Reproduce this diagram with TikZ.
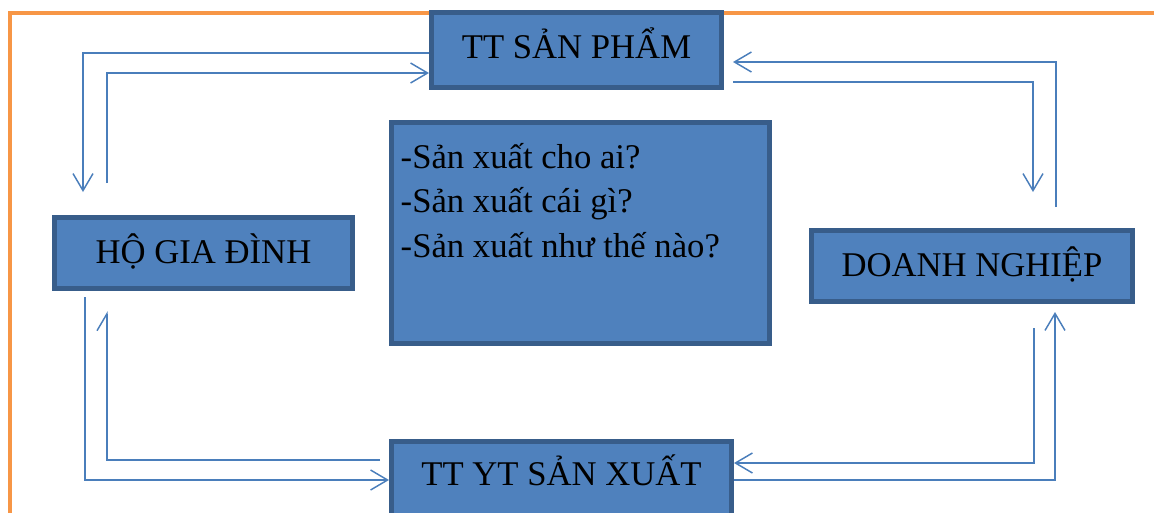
\documentclass[tikz,border=0pt]{standalone}
\usepackage{fontspec}
\setmainfont{Liberation Serif}
\usetikzlibrary{arrows.meta}
\definecolor{boxfill}{HTML}{4F81BD}
\definecolor{boxline}{HTML}{385D8A}
\definecolor{flowcol}{HTML}{4A7EBB}
\definecolor{framecol}{HTML}{F79646}
\tikzset{
  box/.style={draw=boxline, fill=boxfill, line width=3.4pt, inner sep=0pt,
    outer sep=1.7pt, font=\fontsize{26pt}{33.4pt}\selectfont, text=black},
  flow/.style={draw=flowcol, line width=1.1pt},
  tip/.style={-{Straight Barb[length=12.75pt,width=15pt]}},
  halftip/.style={-{Straight Barb[harpoon,length=12.75pt,width=15pt]}},
  frame/.style={draw=framecol, line width=3pt}
}
\begin{document}
\begin{tikzpicture}[x=0.75pt,y=-0.75pt]
\useasboundingbox (0,0) rectangle (1154,512);
\clip (0,0) rectangle (1154,512);
\draw[frame] (9.5,530) -- (9.5,13) -- (1170,13);

\node[box, minimum width=217.85pt, minimum height=56.6pt, text height=12pt, text depth=0pt]
  (ttsp) at (576.5,50) {TT SẢN PHẨM};
\node[box, minimum width=223.85pt, minimum height=53.6pt, text height=15pt, text depth=0pt]
  (hgd) at (203.5,253) {HỘ GIA ĐÌNH};
\node[box, minimum width=241.1pt, minimum height=53.6pt, text height=15pt, text depth=0pt]
  (dn) at (972,266) {DOANH NGHIỆP};
\node[box, minimum width=255.35pt, minimum height=64.1pt, text height=1.5pt, text depth=0pt]
  (ttyt) at (561.5,484) {TT YT SẢN XUẤT};
\node[box, align=left, text width=269.65pt, inner xsep=7.1pt, inner ysep=0pt,
  text height=34.3pt, text depth=131.8pt]
  (q) at (580.5,233) {\spaceskip=0pt\xspaceskip=0pt\relax
  -Sản xuất cho ai?\\-Sản xuất cái gì?\\-Sản xuất như thế nào?};

\coordinate (a1) at (83,192);
\coordinate (b0) at (107,183);
\coordinate (c0) at (1056,207);
\coordinate (d1) at (1033,192);
\coordinate (e0) at (85,297);
\coordinate (f1) at (107,311);
\coordinate (g0) at (1034,328);
\coordinate (h1) at (1055,312);

\draw[flow,tip] ([yshift=-2.25pt]ttsp.west) -| (a1);
\draw[flow,tip] (b0) |- ([yshift=-17.25pt]ttsp.west);
\draw[flow,tip] (c0) |- ([xshift=6.75pt,yshift=-9pt]ttsp.east);
\draw[flow,tip] ([xshift=6.75pt,yshift=-24pt]ttsp.east) -| (d1);
\draw[flow,tip] (e0) |- ([yshift=3pt]ttyt.west);
\draw[flow,halftip] ([xshift=-6.75pt,yshift=18pt]ttyt.west) -| (f1);
\draw[flow,tip] (g0) |- ([yshift=15.75pt]ttyt.east);
\draw[flow,tip] ([yshift=3pt]ttyt.east) -| (h1);
\end{tikzpicture}
\end{document}
